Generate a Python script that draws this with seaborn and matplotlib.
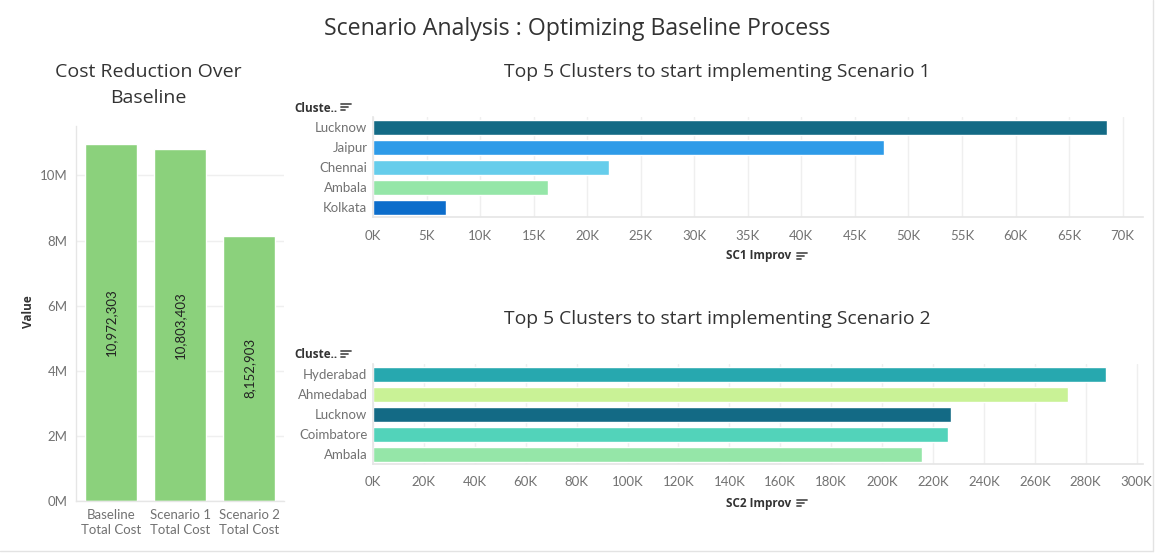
import matplotlib
matplotlib.use("Agg")
import matplotlib.pyplot as plt
import seaborn as sns
import pandas as pd
from matplotlib.lines import Line2D
from matplotlib.ticker import FuncFormatter, MultipleLocator

# ---------------- data ----------------
cost_labels = ["Baseline\nTotal Cost", "Scenario 1\nTotal Cost", "Scenario 2\nTotal Cost"]
cost_values = [10972303, 10803403, 8152903]

sc1_clusters = ["Lucknow", "Jaipur", "Chennai", "Ambala", "Kolkata"]
sc1_values = [68500, 47700, 22000, 16300, 6800]

sc2_clusters = ["Hyderabad", "Ahmedabad", "Lucknow", "Coimbatore", "Ambala"]
sc2_values = [288000, 273000, 227000, 226000, 215500]

cluster_colors = {
    "Lucknow": "#136A85",
    "Jaipur": "#2E9BE8",
    "Chennai": "#66CDEB",
    "Ambala": "#95E6A8",
    "Kolkata": "#0C6DCB",
    "Hyderabad": "#27A8AF",
    "Ahmedabad": "#C9F296",
    "Coimbatore": "#52D3BA",
}
cost_color = "#8BD17C"

# ---------------- style ----------------
sns.set_theme(style="white")
plt.rcParams["font.family"] = ["Lato", "DejaVu Sans"]
TITLE_FONT = ["Open Sans", "DejaVu Sans"]

W, H = 1156, 554
fig = plt.figure(figsize=(W / 100, H / 100), dpi=100)
fig.patch.set_facecolor("white")

def fx(px):
    return px / W

def fy(py):
    return 1 - py / H

GRID = "#EFEFEF"
TICK = "#727272"
DARK = "#333333"

# main title
fig.text(fx(577), fy(29), "Scenario Analysis : Optimizing Baseline Process",
         ha="center", va="center", fontsize=16.7, color=DARK, family=TITLE_FONT)

# ---------------- left chart ----------------
axL = fig.add_axes([fx(76), fy(501), fx(284) - fx(76), fy(126) - fy(501)])
dfc = pd.DataFrame({"label": cost_labels, "value": cost_values})
sns.barplot(data=dfc, x="label", y="value", color=cost_color, width=0.75,
            saturation=1, ax=axL)
axL.set_ylim(0, 11.52e6)
axL.yaxis.set_major_locator(MultipleLocator(2e6))
axL.yaxis.set_major_formatter(FuncFormatter(lambda v, p: f"{v/1e6:.0f}M"))
axL.grid(axis="y", color=GRID, linewidth=1)
axL.set_axisbelow(True)
for s in ["top", "right"]:
    axL.spines[s].set_visible(False)
for s in ["left", "bottom"]:
    axL.spines[s].set_color("#E6E6E6")
    axL.spines[s].set_linewidth(1)
axL.tick_params(axis="both", length=0, labelsize=9.5, labelcolor=TICK, pad=6)
for lbl in axL.get_xticklabels():
    lbl.set_linespacing(1.3)
axL.set_xlabel("")
axL.set_ylabel("")
fig.text(fx(29), fy(312), "Value", rotation=90, ha="center", va="center",
         fontsize=8.5, color=DARK, fontweight="bold", family=TITLE_FONT)
for i, v in enumerate(cost_values):
    axL.text(i, v / 2, f"{v:,}", rotation=90, ha="center", va="center",
             fontsize=9.5, color="#222222")
fig.text(fx(148), fy(85), "Cost Reduction Over\nBaseline", ha="center", va="center",
         fontsize=14, color=DARK, linespacing=1.6, family=TITLE_FONT)

# ---------------- sort icon helper ----------------
def sort_icon(x, y):
    for k, ln in enumerate([10, 7, 4]):
        fig.add_artist(Line2D([fx(x), fx(x + ln)], [fy(y + k * 3), fy(y + k * 3)],
                              color="#555555", linewidth=1.3,
                              transform=fig.transFigure))

# ---------------- right charts ----------------
def hbar(ax, clusters, values, xmax, step, xlabel, label_y):
    df = pd.DataFrame({"cluster": clusters, "value": values})
    sns.barplot(data=df, y="cluster", x="value", hue="cluster",
                palette={c: cluster_colors[c] for c in clusters},
                order=clusters, hue_order=clusters, width=0.75,
                saturation=1, legend=False, ax=ax)
    ax.set_xlim(0, xmax)
    ax.xaxis.set_major_locator(MultipleLocator(step))
    ax.xaxis.set_major_formatter(FuncFormatter(lambda v, p: f"{v/1000:.0f}K"))
    ax.grid(axis="x", color=GRID, linewidth=1)
    ax.set_axisbelow(True)
    for s in ["top", "right"]:
        ax.spines[s].set_visible(False)
    for s in ["left", "bottom"]:
        ax.spines[s].set_color("#E6E6E6")
    ax.tick_params(axis="both", length=0, labelsize=9.5, labelcolor=TICK)
    ax.tick_params(axis="x", pad=9)
    ax.tick_params(axis="y", pad=4)
    ax.set_xlabel("")
    ax.set_ylabel("")
    fig.text(fx(726), fy(label_y), xlabel, ha="left", va="center",
             fontsize=8.5, color=DARK, fontweight="bold", family=TITLE_FONT)
    sort_icon(797, label_y - 3)

axT = fig.add_axes([fx(373), fy(217), fx(1143) - fx(373), fy(117) - fy(217)])
hbar(axT, sc1_clusters, sc1_values, 71900, 5000, "SC1 Improv", 256)
fig.text(fx(717), fy(72), "Top 5 Clusters to start implementing Scenario 1",
         ha="center", va="center", fontsize=13.9, color=DARK, family=TITLE_FONT)
fig.text(fx(294), fy(108), "Cluste..", ha="left", va="center", fontsize=8.5,
         color=DARK, fontweight="bold", family=TITLE_FONT)
sort_icon(341, 104)

axB = fig.add_axes([fx(373), fy(464), fx(1143) - fx(373), fy(364) - fy(464)])
hbar(axB, sc2_clusters, sc2_values, 302500, 20000, "SC2 Improv", 503)
fig.text(fx(717), fy(319), "Top 5 Clusters to start implementing Scenario 2",
         ha="center", va="center", fontsize=13.9, color=DARK, family=TITLE_FONT)
fig.text(fx(294), fy(355), "Cluste..", ha="left", va="center", fontsize=8.5,
         color=DARK, fontweight="bold", family=TITLE_FONT)
sort_icon(341, 351)

# dashboard border lines
fig.add_artist(Line2D([fx(1153), fx(1153)], [fy(0), fy(551)], color="#E3E3E3",
                      linewidth=1, transform=fig.transFigure))
fig.add_artist(Line2D([fx(0), fx(1153)], [fy(551), fy(551)], color="#E3E3E3",
                      linewidth=1, transform=fig.transFigure))

fig.savefig("out.png", dpi=100, facecolor="white")
